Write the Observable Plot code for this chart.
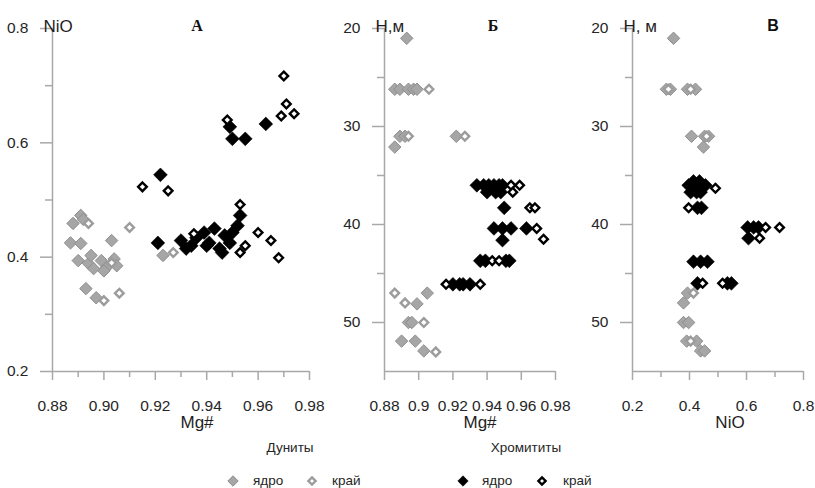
<!DOCTYPE html>
<html><head><meta charset="utf-8">
<script src="https://cdn.jsdelivr.net/npm/d3@7"></script>
<script src="https://cdn.jsdelivr.net/npm/@observablehq/plot@0.6"></script>
<style>
body{margin:0;background:#fff;font-family:Arial,"Liberation Sans",sans-serif;}
#wrap{position:relative;width:815px;height:488px;overflow:hidden;background:#fff;}
.panel{position:absolute;top:0;}
.panel svg{overflow:visible;background:none;}
g[aria-label^="x-axis"] text, g[aria-label^="y-axis"] text{font-size:15.5px;fill:#262626;}
.leg{position:absolute;font-size:13.5px;color:#262626;white-space:nowrap;line-height:1;}
.sw{position:absolute;}
</style></head>
<body><div id="wrap"></div>
<script>
// ---------- Data ----------
// Panel A: Mg# vs NiO
const A_duniteCore = [[0.891,0.473],[0.888,0.459],[0.892,0.466],[0.887,0.425],[0.891,0.424],[0.903,0.429],[0.890,0.394],[0.894,0.389],[0.896,0.380],[0.899,0.394],[0.901,0.382],[0.904,0.397],[0.905,0.385],[0.895,0.403],[0.900,0.376],[0.893,0.345],[0.897,0.329],[0.923,0.403]];
const A_duniteRim = [[0.894,0.459],[0.910,0.452],[0.927,0.408],[0.900,0.324],[0.906,0.337],[0.903,0.390]];
const A_chromCore = [[0.922,0.544],[0.949,0.628],[0.950,0.607],[0.955,0.607],[0.963,0.633],[0.921,0.425],[0.930,0.429],[0.932,0.415],[0.934,0.420],[0.936,0.434],[0.939,0.443],[0.940,0.420],[0.941,0.425],[0.943,0.450],[0.945,0.415],[0.946,0.408],[0.947,0.438],[0.949,0.425],[0.950,0.443],[0.952,0.455],[0.953,0.473]];
const A_chromRim = [[0.915,0.523],[0.925,0.516],[0.948,0.640],[0.970,0.717],[0.971,0.668],[0.969,0.647],[0.974,0.651],[0.953,0.492],[0.960,0.443],[0.965,0.429],[0.968,0.399],[0.953,0.408],[0.955,0.420],[0.935,0.441]];
// Panel Б: Mg# vs depth H, m
const B_duniteCore = [[0.893,21.0],[0.886,26.2],[0.889,26.2],[0.894,26.2],[0.897,26.2],[0.899,26.2],[0.889,31.0],[0.892,31.0],[0.922,31.0],[0.886,32.1],[0.905,47.0],[0.899,48.1],[0.894,50.0],[0.896,50.0],[0.890,51.9],[0.898,51.9],[0.903,52.9]];
const B_duniteRim = [[0.906,26.2],[0.894,31.0],[0.927,31.0],[0.886,47.0],[0.892,48.0],[0.903,50.0],[0.910,53.0]];
const B_chromCore = [[0.934,36.0],[0.938,36.0],[0.941,36.0],[0.944,36.0],[0.947,36.0],[0.949,36.0],[0.940,36.7],[0.945,36.7],[0.948,36.7],[0.950,38.3],[0.944,40.4],[0.949,40.4],[0.954,40.4],[0.963,40.4],[0.949,41.6],[0.936,43.7],[0.939,43.7],[0.951,43.7],[0.953,43.7],[0.920,46.1],[0.924,46.1],[0.926,46.1],[0.930,46.1]];
const B_chromRim = [[0.954,36.0],[0.959,36.0],[0.955,36.7],[0.965,38.3],[0.968,38.3],[0.969,40.4],[0.973,41.5],[0.943,43.7],[0.947,43.7],[0.916,46.1],[0.936,46.1]];
// Panel В: NiO vs depth H, m
const C_duniteCore = [[0.344,21.0],[0.319,26.2],[0.333,26.2],[0.393,26.2],[0.421,26.2],[0.407,31.0],[0.453,31.0],[0.467,31.0],[0.449,32.1],[0.393,47.0],[0.379,48.0],[0.379,50.0],[0.397,50.0],[0.390,51.9],[0.425,51.9],[0.439,52.9],[0.453,52.9]];
const C_duniteRim = [[0.326,26.2],[0.404,26.2],[0.460,31.0],[0.414,47.0],[0.404,51.9]];
const C_chromCore = [[0.397,36.0],[0.411,36.0],[0.428,36.0],[0.442,36.0],[0.456,36.0],[0.404,36.7],[0.425,36.7],[0.439,36.7],[0.414,35.6],[0.435,35.6],[0.428,38.3],[0.442,38.3],[0.604,40.3],[0.625,40.3],[0.642,40.3],[0.607,41.4],[0.414,43.8],[0.439,43.8],[0.463,43.8],[0.428,46.0],[0.533,46.0],[0.547,46.0]];
const C_chromRim = [[0.491,36.3],[0.397,38.3],[0.667,40.3],[0.716,40.3],[0.646,41.4],[0.446,46.0],[0.516,46.0]];

// Ticks
const xTicksA = [0.88,0.89,0.90,0.91,0.92,0.93,0.94,0.95,0.96,0.97,0.98];
const yTicksA = [0.2,0.3,0.4,0.5,0.6,0.7,0.8];
const xTicksB = [0.88,0.90,0.92,0.94,0.96,0.98];
const depthTicks = [20,25,30,35,40,45,50];
const xTicksC = [0.2,0.3,0.4,0.5,0.6,0.7,0.8];

// Legend labels
const groupNames = ["Дуниты","Хромититы"];
const partNames = ["ядро","край"];

// ---------- Styles ----------
const S = {
  dunCore: {symbol:"diamond2", r:5.6, fill:"#a6a6a6", stroke:"#8e8e8e", strokeWidth:1},
  dunRim:  {symbol:"diamond2", r:3.9, fill:"white", stroke:"#9c9c9c", strokeWidth:2.4},
  chrCore: {symbol:"diamond2", r:6.2, fill:"black", stroke:"black", strokeWidth:0.6},
  chrRim:  {symbol:"diamond2", r:3.9, fill:"white", stroke:"black", strokeWidth:2.4}
};
const AX = {stroke:"#a8a8a8", strokeWidth:1.5};
const H = 440, MT = 28, MB = 69;

function dots(arr, st){ return Plot.dot(arr, {x:d=>d[0], y:d=>d[1], ...st}); }

function makePanel(o){
  const fw = o.width - o.ml - o.mr, fh = H - MT - MB;
  const xMaj = o.xTicks.filter(o.xIsMajor), xMin = o.xTicks.filter(d => !o.xIsMajor(d));
  const yMaj = o.yTicks.filter(o.yIsMajor), yMin = o.yTicks.filter(d => !o.yIsMajor(d));
  return Plot.plot({
    width:o.width, height:H,
    marginLeft:o.ml, marginRight:o.mr, marginTop:MT, marginBottom:MB,
    style:{background:"none", overflow:"visible", fontFamily:"Arial, 'Liberation Sans', sans-serif", fontSize:"15.5px", color:"#262626"},
    x:{domain:o.xDomain, ticks:o.xTicks, tickFormat:o.xFormat, tickSize:0, tickPadding:28, label:null},
    y:{domain:o.yDomain, reverse:!!o.reverse, ticks:o.yTicks, tickFormat:o.yFormat, tickSize:0, tickPadding:24, label:null},
    marks:[
      Plot.ruleY([o.yBase], AX),
      Plot.ruleX([o.xDomain[0]], AX),
      Plot.tickY(yMaj, {y:d=>d, ...AX, insetLeft:-12, insetRight:fw}),
      Plot.tickY(yMin, {y:d=>d, ...AX, insetLeft:-7, insetRight:fw}),
      Plot.tickX(xMaj, {x:d=>d, ...AX, insetTop:fh, insetBottom:-9}),
      Plot.tickX(xMin, {x:d=>d, ...AX, insetTop:fh, insetBottom:-6}),
      dots(o.data[0], S.dunCore),
      dots(o.data[1], S.dunRim),
      dots(o.data[2], S.chrCore),
      dots(o.data[3], S.chrRim),
      Plot.text([o.xTitle], {text:d=>d, frameAnchor:"bottom", dx:o.xTitleDx, dy:56, fontSize:17, fill:"#1e1e1e"}),
      Plot.text([o.yTitle], {text:d=>d, frameAnchor:"top-left", dx:-9, dy:-9, textAnchor:"start", fontSize:17, fill:"#1e1e1e"}),
      Plot.text([o.letter], {text:d=>d, frameAnchor:"top", dx:o.letterDx, dy:-9, fontSize:o.letterSize, fontWeight:"bold", fontFamily:o.letterFont, fill:"#111"})
    ]
  });
}

const wrap = document.getElementById("wrap");
function place(el, left, width){
  const d = document.createElement("div");
  d.className = "panel"; d.style.left = left+"px"; d.style.width = width+"px";
  d.appendChild(el); wrap.appendChild(d);
}

const even100 = d => Math.round(d*100)%2===0;
const even10 = d => Math.round(d*10)%2===0;
const ten = d => d%10===0;

place(makePanel({
  width:330, ml:52, mr:21,
  xDomain:[0.88,0.98], xTicks:xTicksA, xIsMajor:even100, xFormat:d => even100(d) ? d.toFixed(2) : "",
  yDomain:[0.2,0.8], yTicks:yTicksA, yIsMajor:even10, yFormat:d => even10(d) ? d.toFixed(1) : "",
  yBase:0.2, data:[A_duniteCore,A_duniteRim,A_chromCore,A_chromRim],
  xTitle:"Mg#", xTitleDx:16, yTitle:"NiO", letter:"A", letterDx:16, letterSize:16, letterFont:"'Liberation Serif','DejaVu Serif',serif"
}), 0, 330);

place(makePanel({
  width:240, ml:54, mr:15,
  xDomain:[0.88,0.98], xTicks:xTicksB, xIsMajor:() => true, xFormat:d => String(+d.toFixed(2)),
  yDomain:[20,55], reverse:true, yTicks:depthTicks, yIsMajor:ten, yFormat:d => ten(d) ? String(d) : "",
  yBase:55, data:[B_duniteCore,B_duniteRim,B_chromCore,B_chromRim],
  xTitle:"Mg#", xTitleDx:10, yTitle:"Н,м", letter:"Б", letterDx:23, letterSize:16, letterFont:"'Liberation Serif','DejaVu Serif',serif"
}), 330, 240);

place(makePanel({
  width:245, ml:62, mr:12,
  xDomain:[0.2,0.8], xTicks:xTicksC, xIsMajor:even10, xFormat:d => even10(d) ? d.toFixed(1) : "",
  yDomain:[20,55], reverse:true, yTicks:depthTicks, yIsMajor:ten, yFormat:d => ten(d) ? String(d) : "",
  yBase:55, data:[C_duniteCore,C_duniteRim,C_chromCore,C_chromRim],
  xTitle:"NiO", xTitleDx:12, yTitle:"Н, м", letter:"В", letterDx:55, letterSize:16, letterFont:"Arial,'Liberation Sans',sans-serif"
}), 570, 245);

// ---------- Legend ----------
function label(txt, x, y, center){
  const d = document.createElement("div");
  d.className = "leg"; d.textContent = txt;
  d.style.left = x+"px"; d.style.top = y+"px";
  d.style.transform = center ? "translate(-50%,-50%)" : "translate(0,-50%)";
  wrap.appendChild(d);
}
function swatch(x, y, st, half){
  const ns = "http://www.w3.org/2000/svg";
  const svg = document.createElementNS(ns, "svg");
  svg.setAttribute("width", 20); svg.setAttribute("height", 20);
  svg.setAttribute("class", "sw");
  svg.style.left = (x-10)+"px"; svg.style.top = (y-10)+"px";
  const p = document.createElementNS(ns, "path");
  p.setAttribute("d", `M10,${10-half}L${10+half},10L10,${10+half}L${10-half},10Z`);
  p.setAttribute("fill", st.fill); p.setAttribute("stroke", st.stroke); p.setAttribute("stroke-width", st.strokeWidth);
  svg.appendChild(p); wrap.appendChild(svg);
}
label(groupNames[0], 290, 448, true);
label(groupNames[1], 526, 448, true);
swatch(233, 481, S.dunCore, 5.2); label(partNames[0], 253, 481, false);
swatch(312, 481, S.dunRim, 3.6);  label(partNames[1], 332, 481, false);
swatch(463, 481, S.chrCore, 5.2); label(partNames[0], 482, 481, false);
swatch(542, 481, S.chrRim, 3.6);  label(partNames[1], 563, 481, false);
</script>
</body></html>
